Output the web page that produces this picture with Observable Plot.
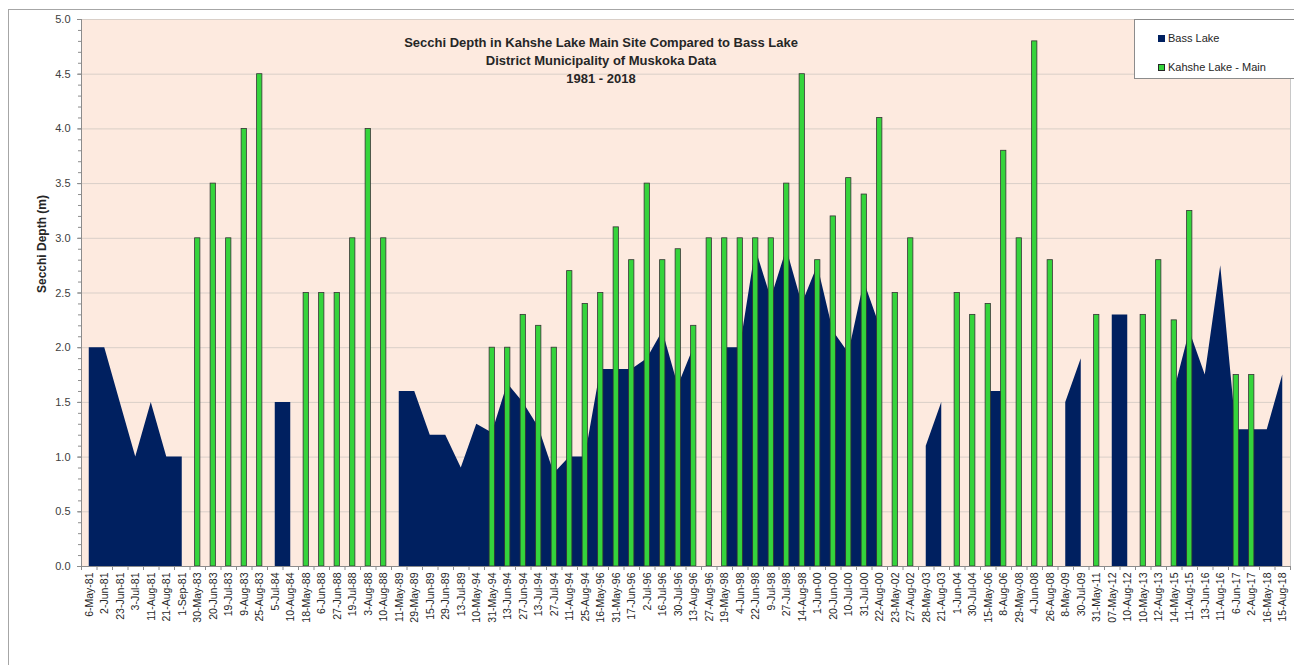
<!DOCTYPE html>
<html>
<head>
<meta charset="utf-8">
<script src="https://cdn.jsdelivr.net/npm/d3@7"></script>
<script src="https://cdn.jsdelivr.net/npm/@observablehq/plot@0.6"></script>
<style>
  html, body { margin: 0; padding: 0; background: #fff; overflow: hidden; }
  #wrap { position: relative; width: 1294px; height: 665px; font-family: "Liberation Sans", Arial, sans-serif; }
  #border { position: absolute; left: 8px; top: 9px; width: 1300px; height: 670px; border: 1px solid #a6a6a6; box-sizing: border-box; pointer-events: none; }
  #chart { position: absolute; left: 0; top: 0; }
  #legend { position: absolute; left: 1134px; top: 19px; width: 170px; height: 60px; background: #fff; border: 1px solid #8c8c8c; box-sizing: border-box; font-size: 11px; color: #262626; }
  .item { position: absolute; left: 23px; display: flex; align-items: center; white-space: nowrap; }
  .sw { width: 7px; height: 7px; margin-right: 3px; box-sizing: border-box; }
</style>
</head>
<body>
<div id="wrap">
  <div id="border"></div>
  <div id="chart"></div>
  <div id="legend"></div>
</div>
<script>
const dates = ["6-May-81","2-Jun-81","23-Jun-81","3-Jul-81","11-Aug-81","21-Aug-81","1-Sep-81","30-May-83","20-Jun-83","19-Jul-83","9-Aug-83","25-Aug-83","5-Jul-84","10-Aug-84","18-May-88","6-Jun-88","27-Jun-88","19-Jul-88","3-Aug-88","10-Aug-88","11-May-89","29-May-89","15-Jun-89","29-Jun-89","13-Jul-89","10-May-94","31-May-94","13-Jun-94","27-Jun-94","13-Jul-94","27-Jul-94","11-Aug-94","25-Aug-94","16-May-96","31-May-96","17-Jun-96","2-Jul-96","16-Jul-96","30-Jul-96","13-Aug-96","27-Aug-96","19-May-98","4-Jun-98","22-Jun-98","9-Jul-98","27-Jul-98","14-Aug-98","1-Jun-00","20-Jun-00","10-Jul-00","31-Jul-00","22-Aug-00","23-May-02","27-Aug-02","28-May-03","21-Aug-03","1-Jun-04","30-Jul-04","15-May-06","8-Aug-06","29-May-08","4-Jun-08","26-Aug-08","8-May-09","30-Jul-09","31-May-11","07-May-12","10-Aug-12","10-May-13","12-Aug-13","14-May-15","11-Aug-15","13-Jun-16","11-Aug-16","6-Jun-17","2-Aug-17","16-May-18","15-Aug-18"];

const bassLake = [2.0,2.0,1.5,1.0,1.5,1.0,1.0,
  null,null,null,null,null,
  1.5,1.5,
  null,null,null,null,null,null,
  1.6,1.6,1.2,1.2,0.9,1.3,1.22,1.67,1.5,1.27,0.85,1.0,1.0,1.8,1.8,1.8,1.9,2.15,1.65,2.0,
  null,
  2.0,2.0,2.9,2.45,2.9,2.4,2.75,2.15,1.95,2.6,2.2,
  null,null,
  1.1,1.5,
  null,null,
  1.6,1.6,
  null,null,null,
  1.5,1.9,
  null,
  2.3,2.3,
  null,null,
  1.6,2.15,1.75,2.75,1.25,1.25,1.25,1.75];

const kahsheMain = [null,null,null,null,null,null,null,
  3.0,3.5,3.0,4.0,4.5,
  null,null,
  2.5,2.5,2.5,3.0,4.0,3.0,
  null,null,null,null,null,null,
  2.0,2.0,2.3,2.2,2.0,2.7,2.4,2.5,3.1,2.8,3.5,2.8,2.9,2.2,3.0,3.0,3.0,3.0,3.0,3.5,4.5,2.8,3.2,3.55,3.4,4.1,2.5,3.0,
  null,null,
  2.5,2.3,2.4,3.8,3.0,4.8,2.8,
  null,null,
  2.3,
  null,null,
  2.3,2.8,2.25,3.25,
  null,null,
  1.75,1.75,
  null,null];

const yMajor = [0,0.5,1,1.5,2,2.5,3,3.5,4,4.5,5];
const yMinor = d3.range(0, 51).map(d => d / 10);
const titleLines = ["Secchi Depth in Kahshe Lake Main Site Compared to Bass Lake", "District Municipality of Muskoka Data", "1981 - 2018"];
const yTitle = "Secchi Depth (m)";
const seriesNames = ["Bass Lake", "Kahshe Lake - Main"];
const colors = {bass: "#002060", kahshe: "#35d43c"};

const idx = d3.range(dates.length);
const bounds = d3.range(dates.length + 1).map(i => i - 0.5);
const axisGray = "#8c8c8c";

const chart = Plot.plot({
  width: 1294,
  height: 665,
  marginLeft: 81,
  marginRight: 4,
  marginTop: 19,
  marginBottom: 99,
  style: {fontFamily: "'Liberation Sans', Arial, sans-serif", background: "transparent", overflow: "visible"},
  x: {type: "linear", domain: [-0.5, dates.length - 0.5]},
  y: {domain: [0, 5]},
  marks: [
    Plot.frame({fill: "#fdeadf", stroke: "#c8c8c8"}),
    Plot.gridY(yMajor, {stroke: "#d9cfc8", strokeOpacity: 1}),
    Plot.areaY(idx, {x: i => i, y1: 0, y2: i => bassLake[i] ?? NaN, fill: colors.bass, curve: "linear"}),
    Plot.rectY(idx.filter(i => kahsheMain[i] != null), {
      x1: i => i - 0.17, x2: i => i + 0.17, y1: 0, y2: i => kahsheMain[i],
      fill: colors.kahshe, stroke: "#333333", strokeWidth: 0.8
    }),
    Plot.ruleY([0], {stroke: axisGray}),
    Plot.ruleX([-0.5], {stroke: axisGray}),
    Plot.axisY(yMinor, {tickSize: 3, tickFormat: () => "", stroke: axisGray, label: null}),
    Plot.axisY(yMajor, {tickSize: 4, tickPadding: 7, tickFormat: d => d.toFixed(1), fontSize: 11, fill: "#404040", stroke: axisGray, label: null}),
    Plot.axisX(bounds, {tickSize: 4, tickFormat: () => "", stroke: axisGray, label: null}),
    Plot.axisX(idx, {tickSize: 0, tickPadding: 6, tickRotate: -90, tickFormat: i => dates[i], fontSize: 10.5, fill: "#262626", label: null}),
    Plot.text([yTitle], {text: d => d, frameAnchor: "left", dx: -39, rotate: -90, fontSize: 12, fontWeight: "bold", fill: "#262626"}),
    Plot.text([titleLines[0]], {text: d => d, frameAnchor: "top", dx: -85, dy: 18, fontSize: 13, fontWeight: "bold", fill: "#262626"}),
    Plot.text([titleLines[1]], {text: d => d, frameAnchor: "top", dx: -85, dy: 36, fontSize: 13, fontWeight: "bold", fill: "#262626"}),
    Plot.text([titleLines[2]], {text: d => d, frameAnchor: "top", dx: -85, dy: 54, fontSize: 13, fontWeight: "bold", fill: "#262626"})
  ]
});
document.getElementById("chart").appendChild(chart);

const legend = document.getElementById("legend");
[[seriesNames[0], colors.bass, colors.bass, 12], [seriesNames[1], colors.kahshe, "#262626", 41]].forEach(([name, fill, stroke, top]) => {
  const item = document.createElement("div");
  item.className = "item";
  item.style.top = top + "px";
  const sw = document.createElement("span");
  sw.className = "sw";
  sw.style.background = fill;
  sw.style.border = "1px solid " + stroke;
  const label = document.createElement("span");
  label.textContent = name;
  item.appendChild(sw);
  item.appendChild(label);
  legend.appendChild(item);
});
</script>
</body>
</html>
